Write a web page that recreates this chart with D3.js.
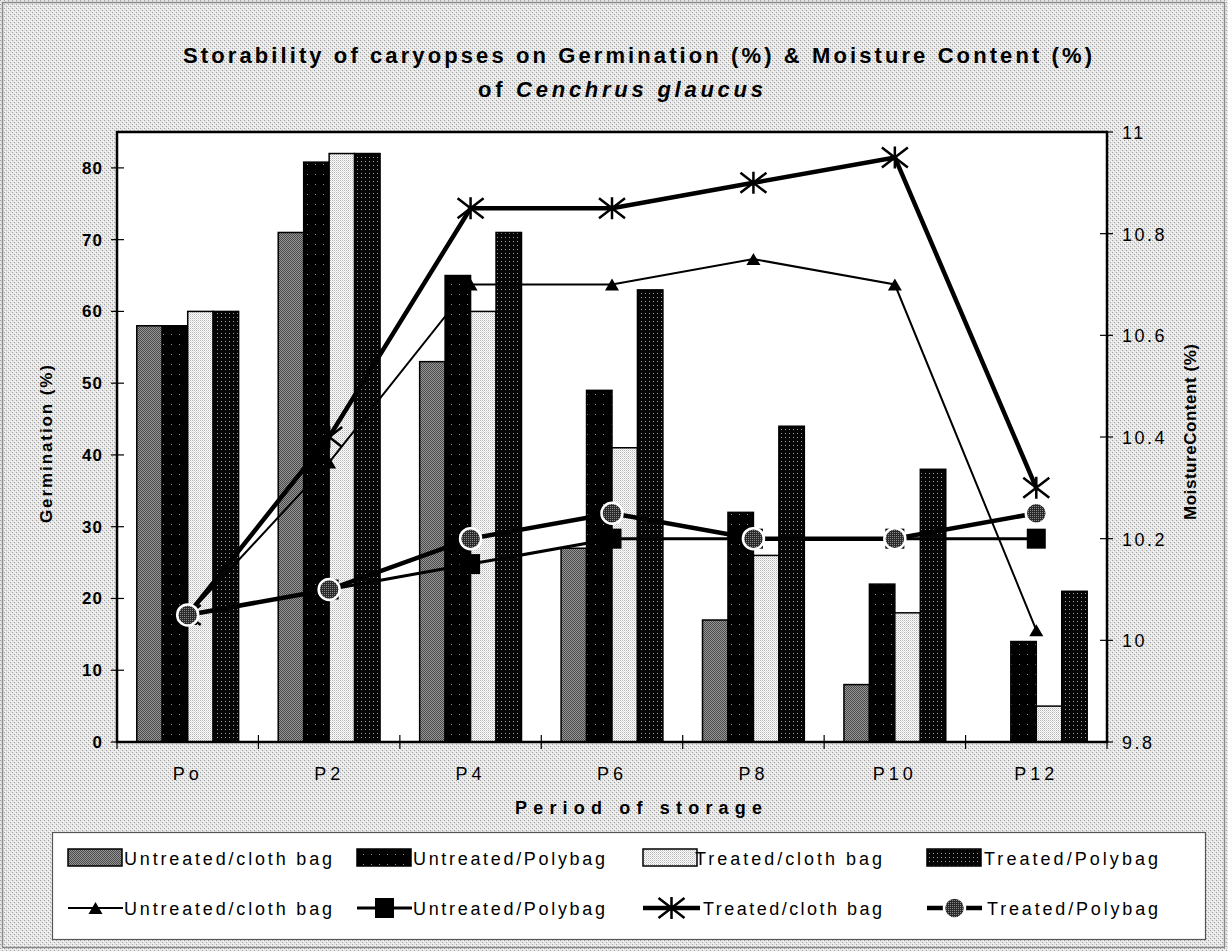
<!DOCTYPE html>
<html><head><meta charset="utf-8">
<script src="https://cdn.jsdelivr.net/npm/d3@7"></script>
<style>
html,body{margin:0;padding:0;background:#fff;}
svg{display:block;font-family:"Liberation Sans",Arial,sans-serif;}
</style></head>
<body><svg id="chart" width="1228" height="951"></svg>
<script>
// ---- data ----
const categories = ["Po","P2","P4","P6","P8","P10","P12"];
const seriesNames = ["Untreated/cloth bag","Untreated/Polybag","Treated/cloth bag","Treated/Polybag"];
const germUntreatedCloth = [58, 71, 53, 27, 17, 8, 0];
const germUntreatedPoly  = [58, 80.8, 65, 49, 32, 22, 14];
const germTreatedCloth   = [60, 82, 60, 41, 26, 18, 5];
const germTreatedPoly    = [60, 82, 71, 63, 44, 38, 21];
const mcUntreatedCloth = [10.05, 10.35, 10.7, 10.7, 10.75, 10.7, 10.02];
const mcUntreatedPoly  = [10.05, 10.1, 10.15, 10.2, 10.2, 10.2, 10.2];
const mcTreatedCloth   = [10.05, 10.4, 10.85, 10.85, 10.9, 10.95, 10.3];
const mcTreatedPoly    = [10.05, 10.1, 10.2, 10.25, 10.2, 10.2, 10.25];
const leftTicks = [0,10,20,30,40,50,60,70,80];
const rightTicks = [9.8,10,10.2,10.4,10.6,10.8,11];
const rightTickLabels = ["9.8","10","10.2","10.4","10.6","10.8","11"];

const barSeries = [germUntreatedCloth, germUntreatedPoly, germTreatedCloth, germTreatedPoly];
const lineSeries = [mcUntreatedCloth, mcUntreatedPoly, mcTreatedCloth, mcTreatedPoly];

// ---- layout ----
const svg = d3.select("#chart");
const P = {l:117, r:1107, t:132, b:742};
const defs = svg.append("defs");

function pattern(id, w, h, base, dots){
  const p = defs.append("pattern").attr("id",id).attr("patternUnits","userSpaceOnUse")
    .attr("width",w).attr("height",h);
  p.append("rect").attr("width",w).attr("height",h).attr("fill",base);
  dots.forEach(d=>p.append("rect").attr("x",d[0]).attr("y",d[1]).attr("width",1).attr("height",1).attr("fill",d[2]));
}
pattern("bg",4,4,"#e6e6e6",[[0,0,"#a0a0a0"],[2,2,"#a0a0a0"],[1,3,"#ffffff"],[3,1,"#ffffff"]]);
pattern("pUC",2,2,"#969696",[[0,0,"#4a4a4a"],[1,1,"#4a4a4a"]]);
pattern("pUP",8,10,"#000",[[3,4,"#9a9a9a"]]);
pattern("pTC",2,2,"#ffffff",[[0,0,"#b4b4b4"],[1,1,"#dadada"]]);
pattern("pTP",4,4,"#050505",[[1,1,"#a0a0a0"]]);
pattern("pCirc",2,2,"#2a2a2a",[[0,0,"#8a8a8a"]]);
const barFills = ["url(#pUC)","url(#pUP)","url(#pTC)","url(#pTP)"];

// background
svg.append("rect").attr("x",0).attr("y",0).attr("width",1228).attr("height",951).attr("fill","url(#bg)");
svg.append("rect").attr("x",2.5).attr("y",2.5).attr("width",1222).attr("height",945)
  .attr("fill","none").attr("stroke","#8a8a8a").attr("stroke-width",1.5);
svg.append("rect").attr("x",P.l).attr("y",P.t).attr("width",P.r-P.l).attr("height",P.b-P.t).attr("fill","#fff");

// scales
const x = d3.scaleBand().domain(categories).range([P.l,P.r]).paddingInner(0.28).paddingOuter(0.14);
const xs = d3.scaleBand().domain(d3.range(4)).range([0,x.bandwidth()]);
const yL = d3.scaleLinear().domain([0,85]).range([P.b,P.t]);
const yR = d3.scaleLinear().domain([9.8,11]).range([P.b,P.t]);
const step = x.step();

// bars
barSeries.forEach((vals,si)=>{
  svg.append("g").selectAll("rect").data(vals).join("rect")
    .attr("x",(d,i)=>x(categories[i])+xs(si))
    .attr("y",d=>yL(d))
    .attr("width",xs.bandwidth())
    .attr("height",d=>P.b-yL(d))
    .attr("fill",barFills[si])
    .attr("stroke","#000").attr("stroke-width",d=>d>0?1.5:0);
});

// frame
svg.append("rect").attr("x",P.l).attr("y",P.t).attr("width",P.r-P.l).attr("height",P.b-P.t)
  .attr("fill","none").attr("stroke","#000").attr("stroke-width",2.5);

// axes ticks
const gL = svg.append("g");
gL.selectAll("line").data(leftTicks).join("line")
  .attr("x1",P.l-6).attr("x2",P.l+7).attr("y1",d=>yL(d)).attr("y2",d=>yL(d)).attr("stroke","#000").attr("stroke-width",1.2);
gL.selectAll("text").data(leftTicks).join("text")
  .attr("x",103).attr("y",d=>yL(d)+6).attr("text-anchor","end")
  .attr("font-size","17px").attr("font-weight","bold").attr("letter-spacing","1px").text(d=>d);

const gR = svg.append("g");
gR.selectAll("line").data(rightTicks).join("line")
  .attr("x1",P.r-7).attr("x2",P.r+6).attr("y1",d=>yR(d)).attr("y2",d=>yR(d)).attr("stroke","#000").attr("stroke-width",1.2);
gR.selectAll("text").data(rightTicks).join("text")
  .attr("x",1122).attr("y",d=>yR(d)+7).attr("text-anchor","start")
  .attr("font-size","18px").attr("letter-spacing","2.5px").text((d,i)=>rightTickLabels[i]);

const gB = svg.append("g");
gB.selectAll("line").data(d3.range(categories.length+1)).join("line")
  .attr("x1",i=>P.l+i*step).attr("x2",i=>P.l+i*step).attr("y1",P.b-7).attr("y2",P.b+7)
  .attr("stroke","#000").attr("stroke-width",1.2);
gB.selectAll("text").data(categories).join("text")
  .attr("x",d=>x(d)+x.bandwidth()/2).attr("y",780).attr("text-anchor","middle")
  .attr("font-size","18px").attr("letter-spacing","4px").text(d=>d);

// lines
const lineStyles = [
  {w:2, marker:"tri"},
  {w:3, marker:"sq"},
  {w:4.5, marker:"ast"},
  {w:4.5, marker:"circ"}
];
const cx = i=>x(categories[i])+x.bandwidth()/2;
function drawMarker(g, type, px, py){
  if(type==="tri"){
    g.append("path").attr("d",`M${px-7},${py+6}L${px},${py-6}L${px+7},${py+6}Z`).attr("fill","#000");
  } else if(type==="sq"){
    g.append("rect").attr("x",px-9.5).attr("y",py-10).attr("width",19).attr("height",20).attr("fill","#000");
  } else if(type==="ast"){
    g.append("path").attr("d",`M${px-13},${py-10}L${px+13},${py+10}M${px-13},${py+10}L${px+13},${py-10}M${px},${py-11}L${px},${py+11}`)
      .attr("stroke","#000").attr("stroke-width",2.5).attr("fill","none");
  } else {
    g.append("circle").attr("cx",px).attr("cy",py).attr("r",10.5).attr("fill","url(#pCirc)")
      .attr("stroke","#fff").attr("stroke-width",2.5);
  }
}
lineSeries.forEach((vals,si)=>{
  const g = svg.append("g");
  const line = d3.line().x((d,i)=>cx(i)).y(d=>yR(d));
  g.append("path").attr("d",line(vals)).attr("fill","none").attr("stroke","#000")
    .attr("stroke-width",lineStyles[si].w).attr("stroke-linejoin","miter");
  vals.forEach((v,i)=>drawMarker(g,lineStyles[si].marker,cx(i),yR(v)));
});

// titles
function fitText(sel, len){ sel.attr("textLength",len).attr("lengthAdjust","spacing"); return sel; }
fitText(svg.append("text").attr("x",183).attr("y",63).attr("font-size","22px").attr("font-weight","bold")
  .text("Storability of caryopses on Germination (%) & Moisture Content (%)"), 909);
const t2 = svg.append("text").attr("x",478).attr("y",97).attr("font-size","22px").attr("font-weight","bold");
t2.append("tspan").text("of ");
t2.append("tspan").attr("font-style","italic").text("Cenchrus glaucus");
fitText(t2,285);

fitText(svg.append("text").attr("x",515).attr("y",814).attr("font-size","18px").attr("font-weight","bold")
  .text("Period of storage"),247);
fitText(svg.append("text").attr("transform","translate(52,523) rotate(-90)").attr("font-size","17px").attr("font-weight","bold")
  .text("Germination (%)"),158);
fitText(svg.append("text").attr("transform","translate(1196,520) rotate(-90)").attr("font-size","17px").attr("font-weight","bold")
  .text("MoistureContent (%)"),176);

// legend
svg.append("rect").attr("x",52.5).attr("y",832.5).attr("width",1153).attr("height",107)
  .attr("fill","#fff").attr("stroke","#555").attr("stroke-width",1.2);
const legSwX = [68,357,643,927];
const legTxtX = [124,413,695,984];
const legTxtW = [208,192,187,174];
const legTxtX2 = [124,413,703,987];
const legTxtW2 = [208,192,179,171];
seriesNames.forEach((name,i)=>{
  svg.append("rect").attr("x",legSwX[i]).attr("y",849).attr("width",54).attr("height",17)
    .attr("fill",barFills[i]).attr("stroke","#000").attr("stroke-width",1.5);
  fitText(svg.append("text").attr("x",legTxtX[i]).attr("y",865).attr("font-size","18px").text(name),legTxtW[i]);
  const g = svg.append("g");
  const x2 = i===2?700:legSwX[i]+55;
  g.append("line").attr("x1",legSwX[i]).attr("x2",x2).attr("y1",908).attr("y2",908)
    .attr("stroke","#000").attr("stroke-width",lineStyles[i].w);
  drawMarker(g,lineStyles[i].marker,(legSwX[i]+x2)/2,908);
  fitText(svg.append("text").attr("x",legTxtX2[i]).attr("y",915).attr("font-size","18px").text(name),legTxtW2[i]);
});
</script></body></html>
